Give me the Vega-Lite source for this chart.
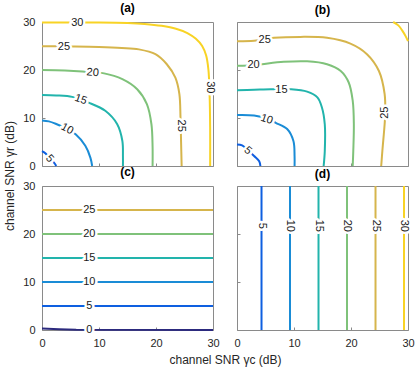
{
  "$schema": "https://vega.github.io/schema/vega-lite/v6.json",
  "padding": {"left": 3, "top": 1, "right": 2, "bottom": 2},
  "config": {
    "font": "Liberation Sans",
    "view": {"stroke": "#8a8a8a", "strokeWidth": 1},
    "axis": {"domain": false, "grid": false, "tickSize": -3, "tickColor": "#8a8a8a", "labelFontSize": 11, "labelColor": "#262626", "labelPadding": 10, "labelFlush": false, "labelOverlap": false, "titleFontSize": 12, "titleFontWeight": "normal", "titleColor": "#262626"},
    "title": {"fontSize": 12, "fontWeight": "bold", "offset": 1, "color": "#000000"}
  },
  "datasets": {
    "lines": [
      {"p":"a","level":30,"i":0,"x":0,"y":29.9},{"p":"a","level":30,"i":1,"x":10,"y":29.9},{"p":"a","level":30,"i":2,"x":15,"y":29.8},{"p":"a","level":30,"i":3,"x":18,"y":29.6},{"p":"a","level":30,"i":4,"x":21,"y":29.2},{"p":"a","level":30,"i":5,"x":23.5,"y":28.6},{"p":"a","level":30,"i":6,"x":25.5,"y":27.7},{"p":"a","level":30,"i":7,"x":27,"y":26.5},{"p":"a","level":30,"i":8,"x":28.1,"y":25},{"p":"a","level":30,"i":9,"x":28.8,"y":23},{"p":"a","level":30,"i":10,"x":29.2,"y":20},{"p":"a","level":30,"i":11,"x":29.4,"y":15},{"p":"a","level":30,"i":12,"x":29.5,"y":8},{"p":"a","level":30,"i":13,"x":29.5,"y":0},
      {"p":"a","level":25,"i":0,"x":0,"y":24.95},{"p":"a","level":25,"i":1,"x":5,"y":24.9},{"p":"a","level":25,"i":2,"x":10,"y":24.8},{"p":"a","level":25,"i":3,"x":14,"y":24.6},{"p":"a","level":25,"i":4,"x":17,"y":24.3},{"p":"a","level":25,"i":5,"x":19.9,"y":23.3},{"p":"a","level":25,"i":6,"x":21.9,"y":21.2},{"p":"a","level":25,"i":7,"x":23.4,"y":18.4},{"p":"a","level":25,"i":8,"x":24.1,"y":15},{"p":"a","level":25,"i":9,"x":24.3,"y":10},{"p":"a","level":25,"i":10,"x":24.4,"y":5},{"p":"a","level":25,"i":11,"x":24.5,"y":0},
      {"p":"a","level":20,"i":0,"x":0,"y":20},{"p":"a","level":20,"i":1,"x":4,"y":19.9},{"p":"a","level":20,"i":2,"x":7.1,"y":19.7},{"p":"a","level":20,"i":3,"x":10.9,"y":19.3},{"p":"a","level":20,"i":4,"x":14.1,"y":18.1},{"p":"a","level":20,"i":5,"x":16.7,"y":16},{"p":"a","level":20,"i":6,"x":18.4,"y":12.9},{"p":"a","level":20,"i":7,"x":19.2,"y":8.7},{"p":"a","level":20,"i":8,"x":19.4,"y":4},{"p":"a","level":20,"i":9,"x":19.4,"y":0},
      {"p":"a","level":15,"i":0,"x":0,"y":14.8},{"p":"a","level":15,"i":1,"x":2.5,"y":14.7},{"p":"a","level":15,"i":2,"x":5.3,"y":14.4},{"p":"a","level":15,"i":3,"x":6.8,"y":13.8},{"p":"a","level":15,"i":4,"x":8.2,"y":13.2},{"p":"a","level":15,"i":5,"x":11.1,"y":11.5},{"p":"a","level":15,"i":6,"x":13.2,"y":8.7},{"p":"a","level":15,"i":7,"x":14.1,"y":5.2},{"p":"a","level":15,"i":8,"x":14.2,"y":2},{"p":"a","level":15,"i":9,"x":14.2,"y":0},
      {"p":"a","level":10,"i":0,"x":0,"y":9.5},{"p":"a","level":10,"i":1,"x":1.2,"y":9.3},{"p":"a","level":10,"i":2,"x":2.4,"y":8.8},{"p":"a","level":10,"i":3,"x":4.4,"y":7.7},{"p":"a","level":10,"i":4,"x":5.9,"y":6.6},{"p":"a","level":10,"i":5,"x":7.6,"y":4.2},{"p":"a","level":10,"i":6,"x":8.5,"y":1.7},{"p":"a","level":10,"i":7,"x":8.8,"y":0},
      {"p":"a","level":5,"i":0,"x":0,"y":3.1},{"p":"a","level":5,"i":1,"x":0.64,"y":2.6},{"p":"a","level":5,"i":2,"x":1.3,"y":1.6},{"p":"a","level":5,"i":3,"x":2.1,"y":0.7},{"p":"a","level":5,"i":4,"x":2.5,"y":0},
      {"p":"b","level":30,"i":0,"x":27.4,"y":30},{"p":"b","level":30,"i":1,"x":28.3,"y":29.3},{"p":"b","level":30,"i":2,"x":29,"y":28.2},{"p":"b","level":30,"i":3,"x":29.6,"y":27},{"p":"b","level":30,"i":4,"x":30,"y":26},
      {"p":"b","level":25,"i":0,"x":0,"y":26},{"p":"b","level":25,"i":1,"x":3,"y":26.1},{"p":"b","level":25,"i":2,"x":6.5,"y":26.7},{"p":"b","level":25,"i":3,"x":11.1,"y":26.9},{"p":"b","level":25,"i":4,"x":15.8,"y":26.7},{"p":"b","level":25,"i":5,"x":19.9,"y":25.5},{"p":"b","level":25,"i":6,"x":22.8,"y":23.3},{"p":"b","level":25,"i":7,"x":24.9,"y":19.8},{"p":"b","level":25,"i":8,"x":25.9,"y":15},{"p":"b","level":25,"i":9,"x":26,"y":11},{"p":"b","level":25,"i":10,"x":25.9,"y":8.7},{"p":"b","level":25,"i":11,"x":25.5,"y":3.1},{"p":"b","level":25,"i":12,"x":25.3,"y":0},
      {"p":"b","level":20,"i":0,"x":0,"y":20.9},{"p":"b","level":20,"i":1,"x":2.9,"y":21},{"p":"b","level":20,"i":2,"x":4.4,"y":21.2},{"p":"b","level":20,"i":3,"x":8.2,"y":21.7},{"p":"b","level":20,"i":4,"x":12.3,"y":21.8},{"p":"b","level":20,"i":5,"x":15.8,"y":21.2},{"p":"b","level":20,"i":6,"x":18.2,"y":19.8},{"p":"b","level":20,"i":7,"x":19.6,"y":17.4},{"p":"b","level":20,"i":8,"x":20.3,"y":13.6},{"p":"b","level":20,"i":9,"x":20.5,"y":8.7},{"p":"b","level":20,"i":10,"x":20.4,"y":3.1},{"p":"b","level":20,"i":11,"x":20.3,"y":0},
      {"p":"b","level":15,"i":0,"x":0,"y":15.8},{"p":"b","level":15,"i":1,"x":3,"y":15.9},{"p":"b","level":15,"i":2,"x":5.9,"y":16},{"p":"b","level":15,"i":3,"x":7.8,"y":16},{"p":"b","level":15,"i":4,"x":9.4,"y":16},{"p":"b","level":15,"i":5,"x":12.3,"y":15.5},{"p":"b","level":15,"i":6,"x":14.1,"y":14.3},{"p":"b","level":15,"i":7,"x":14.9,"y":12.2},{"p":"b","level":15,"i":8,"x":15.4,"y":8.7},{"p":"b","level":15,"i":9,"x":15.4,"y":3.1},{"p":"b","level":15,"i":10,"x":15.2,"y":0},
      {"p":"b","level":10,"i":0,"x":0,"y":10.6},{"p":"b","level":10,"i":1,"x":3,"y":10.5},{"p":"b","level":10,"i":2,"x":5.2,"y":9.9},{"p":"b","level":10,"i":3,"x":6.8,"y":9},{"p":"b","level":10,"i":4,"x":8.8,"y":7.7},{"p":"b","level":10,"i":5,"x":9.9,"y":5.2},{"p":"b","level":10,"i":6,"x":10.1,"y":2},{"p":"b","level":10,"i":7,"x":10.1,"y":0},
      {"p":"b","level":5,"i":0,"x":0,"y":4.5},{"p":"b","level":5,"i":1,"x":0.9,"y":4.3},{"p":"b","level":5,"i":2,"x":1.9,"y":3.3},{"p":"b","level":5,"i":3,"x":3,"y":2.1},{"p":"b","level":5,"i":4,"x":3.9,"y":1},{"p":"b","level":5,"i":5,"x":4.1,"y":0},
      {"p":"c","level":0,"i":0,"x":0,"y":0.3},{"p":"c","level":0,"i":1,"x":3,"y":0.15},{"p":"c","level":0,"i":2,"x":6,"y":0.03},{"p":"c","level":0,"i":3,"x":30,"y":0},
      {"p":"c","level":5,"i":0,"x":0,"y":5},{"p":"c","level":5,"i":1,"x":30,"y":5},
      {"p":"c","level":10,"i":0,"x":0,"y":10},{"p":"c","level":10,"i":1,"x":30,"y":10},
      {"p":"c","level":15,"i":0,"x":0,"y":15},{"p":"c","level":15,"i":1,"x":30,"y":15},
      {"p":"c","level":20,"i":0,"x":0,"y":20},{"p":"c","level":20,"i":1,"x":30,"y":20},
      {"p":"c","level":25,"i":0,"x":0,"y":25},{"p":"c","level":25,"i":1,"x":30,"y":25},
      {"p":"d","level":5,"i":0,"x":4.3,"y":0},{"p":"d","level":5,"i":1,"x":4.3,"y":30},
      {"p":"d","level":10,"i":0,"x":9.3,"y":0},{"p":"d","level":10,"i":1,"x":9.3,"y":30},
      {"p":"d","level":15,"i":0,"x":14.3,"y":0},{"p":"d","level":15,"i":1,"x":14.3,"y":30},
      {"p":"d","level":20,"i":0,"x":19.3,"y":0},{"p":"d","level":20,"i":1,"x":19.3,"y":30},
      {"p":"d","level":25,"i":0,"x":24.3,"y":0},{"p":"d","level":25,"i":1,"x":24.3,"y":30},
      {"p":"d","level":30,"i":0,"x":29.3,"y":0},{"p":"d","level":30,"i":1,"x":29.3,"y":30}
    ],
    "labels": [
      {"p":"a","level":30,"x":6.2,"y":29.8,"ang":0},
      {"p":"a","level":25,"x":3.85,"y":24.8,"ang":0},
      {"p":"a","level":20,"x":8.9,"y":19.4,"ang":5},
      {"p":"a","level":15,"x":6.8,"y":13.8,"ang":19},
      {"p":"a","level":10,"x":4.4,"y":7.7,"ang":28},
      {"p":"a","level":5,"x":1.3,"y":1.5,"ang":48},
      {"p":"a","level":30,"x":29.4,"y":16.4,"ang":90},
      {"p":"a","level":25,"x":24.3,"y":8.4,"ang":90},
      {"p":"b","level":25,"x":4.85,"y":26.2,"ang":0},
      {"p":"b","level":20,"x":2.9,"y":21,"ang":0},
      {"p":"b","level":15,"x":7.8,"y":15.9,"ang":0},
      {"p":"b","level":10,"x":5.2,"y":9.7,"ang":18},
      {"p":"b","level":5,"x":1.9,"y":3.2,"ang":41},
      {"p":"b","level":25,"x":26,"y":11.1,"ang":270},
      {"p":"c","level":0,"x":8.3,"y":0,"ang":0},
      {"p":"c","level":5,"x":8.3,"y":5,"ang":0},
      {"p":"c","level":10,"x":8.3,"y":10,"ang":0},
      {"p":"c","level":15,"x":8.3,"y":15,"ang":0},
      {"p":"c","level":20,"x":8.3,"y":20,"ang":0},
      {"p":"c","level":25,"x":8.3,"y":25,"ang":0},
      {"p":"d","level":5,"x":4.3,"y":21.7,"ang":90},
      {"p":"d","level":10,"x":9.3,"y":21.7,"ang":90},
      {"p":"d","level":15,"x":14.3,"y":21.7,"ang":90},
      {"p":"d","level":20,"x":19.3,"y":21.7,"ang":90},
      {"p":"d","level":25,"x":24.3,"y":21.7,"ang":90},
      {"p":"d","level":30,"x":29.3,"y":21.7,"ang":90}
    ]
  },
  "columns": 2,
  "spacing": {"row": 20, "column": 24},
  "bounds": "flush",
  "concat": [
    {
      "width": 171, "height": 144,
      "title": "(a)",
      "layer": [
        {
          "data": {"name": "lines"},
          "transform": [{"filter": "datum.p == 'a'"}],
          "mark": {"type": "line", "strokeWidth": 2, "interpolate": "catmull-rom"},
          "encoding": {
            "x": {"field": "x", "type": "quantitative", "scale": {"domain": [0, 30], "nice": false}, "axis": {"values": [0, 10, 20, 30], "labels": false, "title": null}},
            "y": {"field": "y", "type": "quantitative", "scale": {"domain": [0, 30], "nice": false}, "axis": {"values": [0, 10, 20, 30], "title": "channel SNR γr (dB)", "titleY": 153.5, "titlePadding": 6}},
            "color": {"field": "level", "type": "ordinal", "scale": {"domain": [0, 5, 10, 15, 20, 25, 30], "range": ["#2c2a7e", "#0e5fe0", "#1a8cd6", "#22b4ac", "#7fc27a", "#d6b54c", "#f8d325"]}, "legend": null},
            "order": {"field": "i", "type": "quantitative"}
          }
        },
        {
          "data": {"name": "labels"},
          "transform": [{"filter": "datum.p == 'a'"}],
          "mark": {"type": "text", "fontSize": 11, "fill": "white", "stroke": "white", "strokeWidth": 5, "strokeJoin": "round"},
          "encoding": {
            "x": {"field": "x", "type": "quantitative"},
            "y": {"field": "y", "type": "quantitative"},
            "text": {"field": "level"},
            "angle": {"field": "ang", "type": "quantitative", "scale": null}
          }
        },
        {
          "data": {"name": "labels"},
          "transform": [{"filter": "datum.p == 'a'"}],
          "mark": {"type": "text", "fontSize": 11, "fill": "#1a1a1a"},
          "encoding": {
            "x": {"field": "x", "type": "quantitative"},
            "y": {"field": "y", "type": "quantitative"},
            "text": {"field": "level"},
            "angle": {"field": "ang", "type": "quantitative", "scale": null}
          }
        }
      ]
    },
    {
      "width": 171, "height": 144,
      "title": "(b)",
      "layer": [
        {
          "data": {"name": "lines"},
          "transform": [{"filter": "datum.p == 'b'"}],
          "mark": {"type": "line", "strokeWidth": 2, "interpolate": "catmull-rom"},
          "encoding": {
            "x": {"field": "x", "type": "quantitative", "scale": {"domain": [0, 30], "nice": false}, "axis": {"values": [0, 10, 20, 30], "labels": false, "title": null}},
            "y": {"field": "y", "type": "quantitative", "scale": {"domain": [0, 30], "nice": false}, "axis": {"values": [0, 10, 20, 30], "labels": false, "title": null}},
            "color": {"field": "level", "type": "ordinal", "scale": {"domain": [0, 5, 10, 15, 20, 25, 30], "range": ["#2c2a7e", "#0e5fe0", "#1a8cd6", "#22b4ac", "#7fc27a", "#d6b54c", "#f8d325"]}, "legend": null},
            "order": {"field": "i", "type": "quantitative"}
          }
        },
        {
          "data": {"name": "labels"},
          "transform": [{"filter": "datum.p == 'b'"}],
          "mark": {"type": "text", "fontSize": 11, "fill": "white", "stroke": "white", "strokeWidth": 5, "strokeJoin": "round"},
          "encoding": {
            "x": {"field": "x", "type": "quantitative"},
            "y": {"field": "y", "type": "quantitative"},
            "text": {"field": "level"},
            "angle": {"field": "ang", "type": "quantitative", "scale": null}
          }
        },
        {
          "data": {"name": "labels"},
          "transform": [{"filter": "datum.p == 'b'"}],
          "mark": {"type": "text", "fontSize": 11, "fill": "#1a1a1a"},
          "encoding": {
            "x": {"field": "x", "type": "quantitative"},
            "y": {"field": "y", "type": "quantitative"},
            "text": {"field": "level"},
            "angle": {"field": "ang", "type": "quantitative", "scale": null}
          }
        }
      ]
    },
    {
      "width": 171, "height": 144,
      "title": "(c)",
      "layer": [
        {
          "data": {"name": "lines"},
          "transform": [{"filter": "datum.p == 'c'"}],
          "mark": {"type": "line", "strokeWidth": 2},
          "encoding": {
            "x": {"field": "x", "type": "quantitative", "scale": {"domain": [0, 30], "nice": false}, "axis": {"values": [0, 10, 20, 30], "title": "channel SNR γc (dB)", "titleX": 183, "titlePadding": 6}},
            "y": {"field": "y", "type": "quantitative", "scale": {"domain": [0, 30], "nice": false}, "axis": {"values": [0, 10, 20, 30], "title": null}},
            "color": {"field": "level", "type": "ordinal", "scale": {"domain": [0, 5, 10, 15, 20, 25, 30], "range": ["#2c2a7e", "#0e5fe0", "#1a8cd6", "#22b4ac", "#7fc27a", "#d6b54c", "#f8d325"]}, "legend": null},
            "order": {"field": "i", "type": "quantitative"}
          }
        },
        {
          "data": {"name": "labels"},
          "transform": [{"filter": "datum.p == 'c'"}],
          "mark": {"type": "text", "fontSize": 11, "fill": "white", "stroke": "white", "strokeWidth": 5, "strokeJoin": "round"},
          "encoding": {
            "x": {"field": "x", "type": "quantitative"},
            "y": {"field": "y", "type": "quantitative"},
            "text": {"field": "level"},
            "angle": {"field": "ang", "type": "quantitative", "scale": null}
          }
        },
        {
          "data": {"name": "labels"},
          "transform": [{"filter": "datum.p == 'c'"}],
          "mark": {"type": "text", "fontSize": 11, "fill": "#1a1a1a"},
          "encoding": {
            "x": {"field": "x", "type": "quantitative"},
            "y": {"field": "y", "type": "quantitative"},
            "text": {"field": "level"},
            "angle": {"field": "ang", "type": "quantitative", "scale": null}
          }
        }
      ]
    },
    {
      "width": 171, "height": 144,
      "title": "(d)",
      "layer": [
        {
          "data": {"name": "lines"},
          "transform": [{"filter": "datum.p == 'd'"}],
          "mark": {"type": "line", "strokeWidth": 2},
          "encoding": {
            "x": {"field": "x", "type": "quantitative", "scale": {"domain": [0, 30], "nice": false}, "axis": {"values": [0, 10, 20, 30], "title": null}},
            "y": {"field": "y", "type": "quantitative", "scale": {"domain": [0, 30], "nice": false}, "axis": {"values": [0, 10, 20, 30], "labels": false, "title": null}},
            "color": {"field": "level", "type": "ordinal", "scale": {"domain": [0, 5, 10, 15, 20, 25, 30], "range": ["#2c2a7e", "#0e5fe0", "#1a8cd6", "#22b4ac", "#7fc27a", "#d6b54c", "#f8d325"]}, "legend": null},
            "order": {"field": "i", "type": "quantitative"}
          }
        },
        {
          "data": {"name": "labels"},
          "transform": [{"filter": "datum.p == 'd'"}],
          "mark": {"type": "text", "fontSize": 11, "fill": "white", "stroke": "white", "strokeWidth": 5, "strokeJoin": "round"},
          "encoding": {
            "x": {"field": "x", "type": "quantitative"},
            "y": {"field": "y", "type": "quantitative"},
            "text": {"field": "level"},
            "angle": {"field": "ang", "type": "quantitative", "scale": null}
          }
        },
        {
          "data": {"name": "labels"},
          "transform": [{"filter": "datum.p == 'd'"}],
          "mark": {"type": "text", "fontSize": 11, "fill": "#1a1a1a"},
          "encoding": {
            "x": {"field": "x", "type": "quantitative"},
            "y": {"field": "y", "type": "quantitative"},
            "text": {"field": "level"},
            "angle": {"field": "ang", "type": "quantitative", "scale": null}
          }
        }
      ]
    }
  ]
}
